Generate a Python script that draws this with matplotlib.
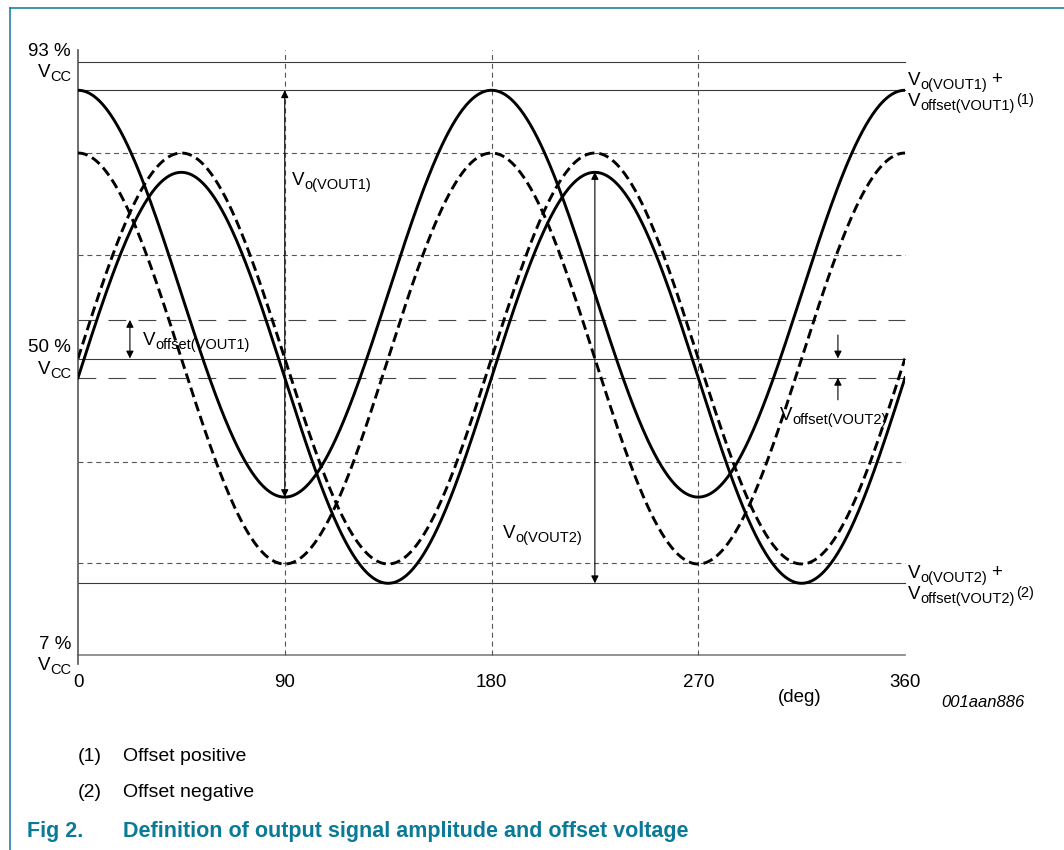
# Definición de amplitud y offset de la señal de salida (Fig 2)
import numpy as np
import matplotlib
matplotlib.use("Agg")
import matplotlib.pyplot as plt
from matplotlib.lines import Line2D
from matplotlib.transforms import offset_copy

plt.rcParams['font.family'] = ['Liberation Sans', 'DejaVu Sans']

W, H = 1064, 850
TEAL = '#0a7a96'
FS = 13.5     # texto normal
SFS = 10.5    # subindices

# ejes
xticks = [0, 90, 180, 270, 360]
yticks = [7, 50, 93]
ytick_pct = ['7 %', '50 %', '93 %']

# señales: y = centro + amp * sin(2*theta + fase), en % VCC
sig_center = [50.0, 50.0, 59.4, 47.2]
sig_amp = [29.8, 29.8, 29.5, 29.8]
sig_phase = [90, 0, 90, 0]
sig_dashed = [True, True, False, False]

# niveles horizontales (% VCC)
lvl_solid = [93, 88.9, 50, 17.4]
lvl_dotted = [79.8, 65.0, 35.0, 20.3]
lvl_offset = [55.6, 47.2]
lvl_bottom = 7

# flechas (grados, desde, hasta)
amp_arrows = [(90, 88.9, 29.9), (225, 77.05, 17.4)]
off1_arrow = (22.6, 55.6, 50)
off2_arrows = [(330.8, 53.4, 50), (330.8, 44.0, 47.2)]

fig = plt.figure(figsize=(W / 100, H / 100), dpi=100)
ax = fig.add_axes([78 / W, 1 - 655 / H, 827 / W, 593 / H])
ax.set_xlim(0, 360)
ax.set_ylim(7, 93)
for s in ax.spines.values():
    s.set_visible(False)
renderer = fig.canvas.get_renderer()


def width(t):
    return t.get_window_extent(renderer).width


def vlabel(x, y, sub, sup=None, tail=None):
    # "V" con subindice (y superindice opcional) en coordenadas de datos
    tr = ax.transData
    t = ax.text(x, y, 'V', fontsize=FS, va='baseline', clip_on=False)
    w = width(t)
    ts = ax.text(x, y, sub, fontsize=SFS, va='baseline', clip_on=False,
                 transform=offset_copy(tr, fig=fig, x=w, y=-4, units='dots'))
    w += width(ts)
    if sup:
        ax.text(x, y, sup, fontsize=SFS, va='baseline', clip_on=False,
                transform=offset_copy(tr, fig=fig, x=w + 1, y=2, units='dots'))
    if tail:
        ax.text(x, y, tail, fontsize=FS, va='baseline', clip_on=False,
                transform=offset_copy(tr, fig=fig, x=w + 4, y=1, units='dots'))


# eje izquierdo (sobresale un poco)
ax.plot([0, 0], [5.7, 94.74], color='#555555', lw=1.2, clip_on=False, zorder=3)

# lineas horizontales
for y in lvl_solid:
    ax.plot([0, 360], [y, y], color='#3a3a3a', lw=0.8, clip_on=False)
for y in lvl_dotted:
    ax.plot([0, 360], [y, y], color='#555555', lw=0.8, ls=(0, (4.5, 3.5)), clip_on=False)
for y in lvl_offset:
    ax.plot([0, 360], [y, y], color='#444444', lw=0.8, ls=(0, (16, 11)), clip_on=False)
ax.plot([0, 360], [lvl_bottom, lvl_bottom], color='#808080', lw=1.2, clip_on=False)

# lineas verticales punteadas
for x in xticks[1:-1]:
    ax.plot([x, x], [7, 94.74], color='#555555', lw=0.8, ls=(0, (4.5, 3.5)), clip_on=False)

# curvas
theta = np.linspace(0, 360, 721)
for c, a, ph, d in zip(sig_center, sig_amp, sig_phase, sig_dashed):
    y = c + a * np.sin(np.radians(2 * theta + ph))
    if d:
        ax.plot(theta, y, color='black', lw=2.1, ls=(0, (3.4, 1.7)), zorder=4)
    else:
        ax.plot(theta, y, color='black', lw=2.1, zorder=4)

# flechas
arr = dict(arrowstyle='<|-|>', color='black', lw=0.8, mutation_scale=11,
           shrinkA=0, shrinkB=0)
for x, y0, y1 in amp_arrows:
    ax.annotate('', xy=(x, y1), xytext=(x, y0), arrowprops=arr)
x, y0, y1 = off1_arrow
ax.annotate('', xy=(x, y1), xytext=(x, y0), arrowprops=arr)
for x, y0, y1 in off2_arrows:
    ax.annotate('', xy=(x, y1), xytext=(x, y0),
                arrowprops=dict(arrowstyle='-|>', color='black', lw=0.8,
                                mutation_scale=11, shrinkA=0, shrinkB=0))

# ticks
ax.set_xticks(xticks)
ax.set_xticklabels([str(v) for v in xticks], fontsize=FS)
ax.set_yticks(yticks)
ax.set_yticklabels([])
ax.tick_params(axis='x', length=0, pad=14)
ax.tick_params(axis='y', length=0)
for yv, p in zip(yticks, ytick_pct):
    ax.text(0, yv, p, fontsize=FS, ha='right', va='baseline',
            transform=offset_copy(ax.transData, fig=fig, x=-7, y=6, units='dots'))
    tc = ax.text(0, yv, 'CC', fontsize=SFS, ha='right', va='baseline',
                 transform=offset_copy(ax.transData, fig=fig, x=-7, y=-19, units='dots'))
    ax.text(0, yv, 'V', fontsize=FS, ha='right', va='baseline',
            transform=offset_copy(ax.transData, fig=fig, x=-7 - width(tc), y=-15, units='dots'))

# etiquetas
vlabel(93.2, 75.2, 'o(VOUT1)')
vlabel(28.3, 52.0, 'offset(VOUT1)')
vlabel(305.6, 41.1, 'offset(VOUT2)')
vlabel(185.0, 24.0, 'o(VOUT2)')
vlabel(361.3, 89.7, 'o(VOUT1)', tail='+')
vlabel(361.3, 86.6, 'offset(VOUT1)', sup='(1)')
vlabel(361.3, 18.2, 'o(VOUT2)', tail='+')
vlabel(361.3, 15.1, 'offset(VOUT2)', sup='(2)')

# textos fuera del grafico
fig.text(800 / W, 1 - 702 / H, '(deg)', fontsize=FS, ha='center', va='baseline')
fig.text(1025 / W, 1 - 707 / H, '001aan886', fontsize=12, style='italic', ha='right', va='baseline')
fig.text(78 / W, 1 - 761 / H, '(1)', fontsize=14, va='baseline')
fig.text(123 / W, 1 - 761 / H, 'Offset positive', fontsize=14, va='baseline')
fig.text(78 / W, 1 - 797 / H, '(2)', fontsize=14, va='baseline')
fig.text(123 / W, 1 - 797 / H, 'Offset negative', fontsize=14, va='baseline')
fig.text(27 / W, 1 - 837 / H, 'Fig 2.', fontsize=15.5, weight='bold', color=TEAL, va='baseline')
fig.text(123 / W, 1 - 837 / H, 'Definition of output signal amplitude and offset voltage',
         fontsize=15.5, weight='bold', color=TEAL, va='baseline')

# marco
fig.add_artist(Line2D([10 / W, 1], [1 - 8 / H, 1 - 8 / H], color=TEAL, lw=1.1))
fig.add_artist(Line2D([10 / W, 10 / W], [0, 1 - 8 / H], color=TEAL, lw=1.1))

fig.savefig('out.png', dpi=100)
